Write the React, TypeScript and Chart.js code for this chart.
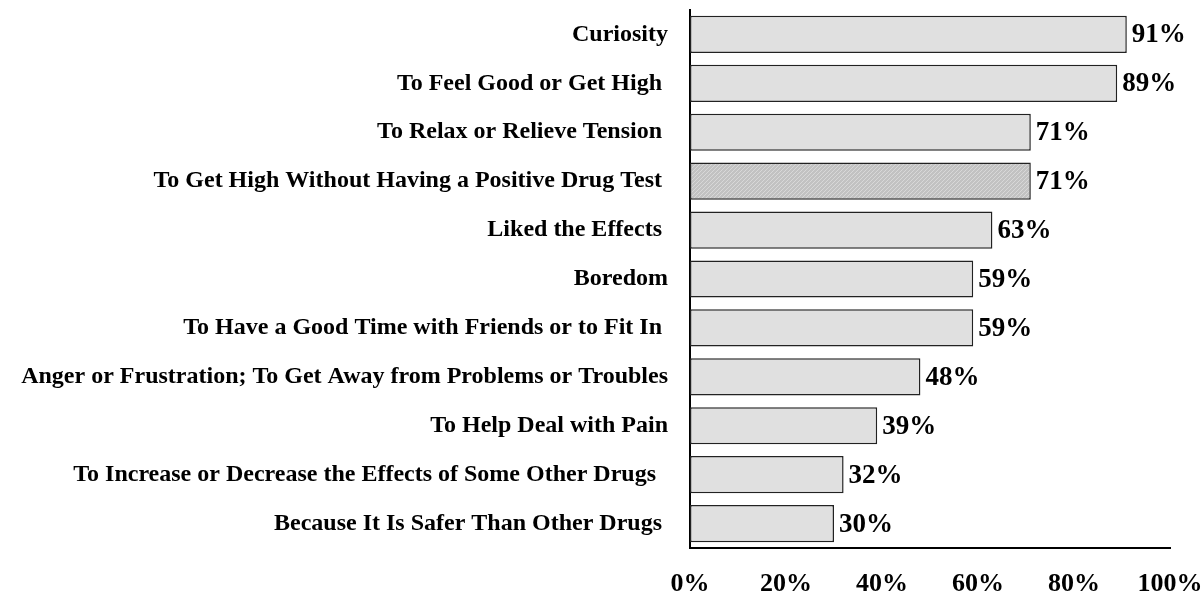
import React, { useEffect, useRef } from "react";
import { Chart, registerables } from "chart.js";

Chart.register(...registerables);

const categories = [
  "Curiosity",
  "To Feel Good or Get High ",
  "To Relax or Relieve Tension ",
  "To Get High Without Having a Positive Drug Test ",
  "Liked the Effects ",
  "Boredom",
  "To Have a Good Time with Friends or to Fit In ",
  "Anger or Frustration; To Get Away from Problems or Troubles",
  "To Help Deal with Pain",
  "To Increase or Decrease the Effects of Some Other Drugs  ",
  "Because It Is Safer Than Other Drugs ",
];
const values = [91, 89, 71, 71, 63, 59, 59, 48, 39, 32, 30];
const hatchedIndex = [3];
const xTicks = [0, 20, 40, 60, 80, 100];

const FONT = "'Liberation Serif', 'Times New Roman', serif";

function makeHatch(): CanvasPattern | string {
  const c = document.createElement("canvas");
  c.width = 4;
  c.height = 4;
  const g = c.getContext("2d");
  if (!g) return "#c4c4c4";
  g.fillStyle = "#c2c2c2";
  g.fillRect(0, 0, 4, 4);
  g.strokeStyle = "#d8d8d8";
  g.lineWidth = 1;
  g.beginPath();
  g.moveTo(0, 4);
  g.lineTo(4, 0);
  g.stroke();
  const p = g.createPattern(c, "repeat");
  return p || "#c4c4c4";
}

const valueLabels = {
  id: "valueLabels",
  afterDatasetsDraw(chart: any) {
    const ctx = chart.ctx;
    const meta = chart.getDatasetMeta(0);
    ctx.save();
    ctx.font = `bold 27px ${FONT}`;
    ctx.fillStyle = "#000";
    ctx.textAlign = "left";
    ctx.textBaseline = "middle";
    meta.data.forEach((bar: any, i: number) => {
      ctx.fillText(values[i] + "%", bar.x + 5, bar.y + 1);
    });
    ctx.restore();
  },
};

const zeroPadding = (s: any) => {
  s.paddingLeft = 0;
  s.paddingRight = 0;
  s.paddingTop = 0;
  s.paddingBottom = 0;
};

export default function App() {
  const ref = useRef<HTMLCanvasElement | null>(null);
  useEffect(() => {
    if (!ref.current) return;
    const hatch = makeHatch();
    const bg = values.map((_, i) => (hatchedIndex.includes(i) ? hatch : "#e0e0e0"));
    const chart = new Chart(ref.current, {
      type: "bar",
      data: {
        labels: categories,
        datasets: [
          {
            data: values,
            backgroundColor: bg as any,
            borderColor: "#222",
            borderWidth: 1.5,
            borderSkipped: false,
            categoryPercentage: 1,
            barPercentage: 0.76,
          },
        ],
      },
      options: {
        indexAxis: "y",
        animation: false,
        responsive: true,
        maintainAspectRatio: false,
        layout: { padding: { top: 10, right: 34, left: 0, bottom: 0 } },
        plugins: { legend: { display: false }, tooltip: { enabled: false } },
        scales: {
          x: {
            min: 0,
            max: 100,
            afterBuildTicks: (s: any) => {
              s.ticks = xTicks.map((v) => ({ value: v }));
            },
            afterFit: (s: any) => {
              s.height = 44;
              zeroPadding(s);
            },
            grid: { display: false, drawTicks: false },
            border: { display: true, color: "#000", width: 2 },
            ticks: {
              padding: 21,
              color: "#000",
              font: { family: FONT, size: 26, weight: "bold" },
              callback: (v: any) => v + "%",
              maxRotation: 0,
            },
          },
          y: {
            afterFit: (s: any) => {
              s.width = 690;
              zeroPadding(s);
            },
            grid: { display: false, drawTicks: false },
            border: { display: true, color: "#000", width: 2 },
            ticks: {
              padding: 22,
              color: "#000",
              font: { family: FONT, size: 24, weight: "bold" },
              autoSkip: false,
            },
          },
        },
      },
      plugins: [valueLabels],
    });
    return () => chart.destroy();
  }, []);
  return (
    <div style={{ position: "fixed", left: 0, top: 0, width: 1204, height: 592, background: "#fff" }}>
      <canvas ref={ref} />
    </div>
  );
}
